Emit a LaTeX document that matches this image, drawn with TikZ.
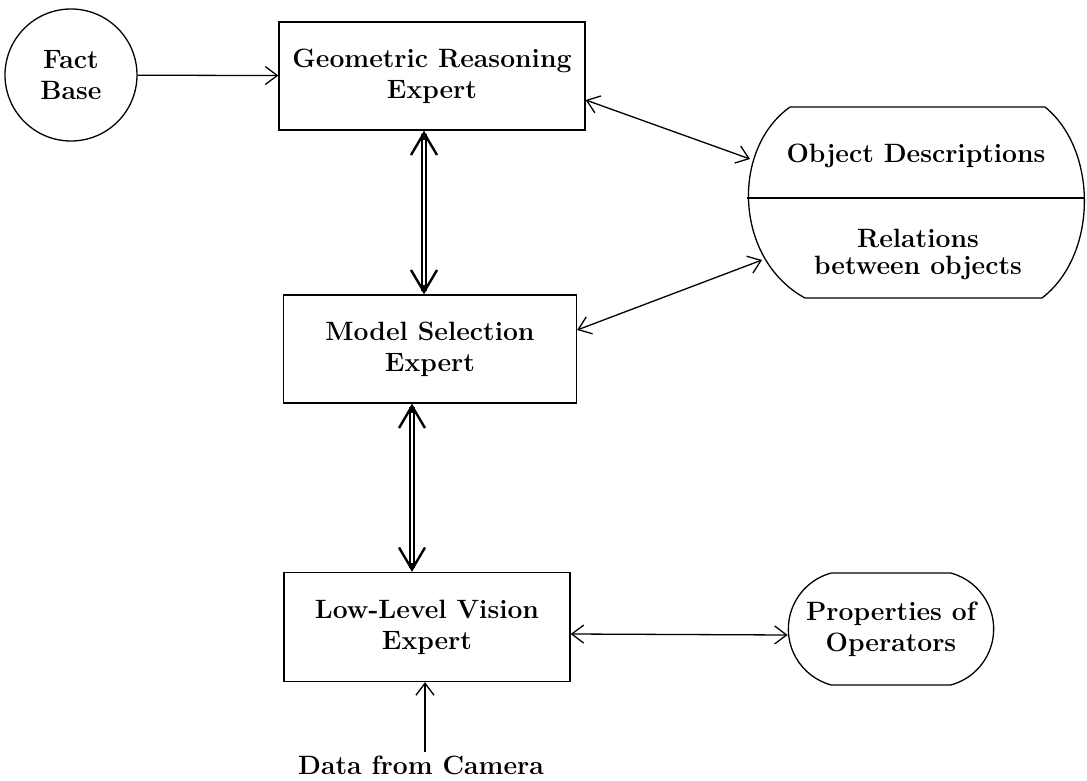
\documentclass[tikz,border=0pt]{standalone}
\usepackage{tikz}
\usetikzlibrary{arrows.meta,shapes.misc}

\begin{document}
\begin{tikzpicture}[x=1pt,y=-1pt,
    every node/.style={font=\fontsize{26.5}{31}\selectfont\bfseries, align=center},
    expert/.style={draw, line width=1.3pt, minimum height=108pt},
    store/.style={draw, line width=1.3pt},
    link/.style={line width=1.3pt, {Straight Barb[length=12pt,width=18pt]}-{Straight Barb[length=12pt,width=18pt]}},
    feed/.style={line width=1.3pt, -{Straight Barb[length=12pt,width=18pt]}},
    flow/.style={line width=6.4pt, {Straight Barb[length=22pt,width=26pt,line width=2.4pt]}-{Straight Barb[length=22pt,width=26pt,line width=2.4pt]},
        postaction={draw=white, line width=1.8pt, arrows=-, shorten <=9pt, shorten >=9pt}}]
            \useasboundingbox (0,0) rectangle (1087,781);

            % experts
            \node[store, circle, minimum size=132pt] (fact) at (71,75) {Fact\\Base};
            \node[expert, minimum width=306pt] (geo) at (432,76) {Geometric Reasoning\\Expert};
            \node[expert, minimum width=293pt] (model) at (430,349) {Model Selection\\Expert};
            \node[expert, minimum width=286pt, minimum height=109pt] (low) at (427,627) {Low-Level Vision\\Expert};
            \node[store, rounded rectangle, rounded rectangle arc length=150, minimum width=212pt, minimum height=112pt] (props) at (891,629) {Properties of\\Operators};
            \node (camera) at (421,765) {Data from Camera};

            % object store
            \draw[line width=1.3pt] (790,107) -- (1045,107) .. controls (1098,150) and (1098,255) .. (1042,298) -- (805,298) .. controls (735,260) and (730,150) .. (790,107);
            \draw[line width=1.3pt] (747,198) -- (1084,198);
            \node (objdesc) at (916,156) {Object Descriptions};
            \node[font=\fontsize{26.5}{27}\selectfont\bfseries] (relations) at (918,254) {Relations\\between objects};
            \coordinate (od-port) at (750,159);
            \coordinate (rel-port) at (762,260);

            % connectors
            \draw[feed] (fact) -- (geo);
            \draw[link] ([yshift=-24pt]geo.east) -- (od-port);
            \draw[link] ([yshift=19pt]model.east) -- (rel-port);
            \draw[flow] ([xshift=-8pt]geo.south) -- ([xshift=-8pt]geo.south |- model.north);
            \draw[flow] ([xshift=-18pt]model.south) -- ([xshift=-18pt]model.south |- low.north);
            \draw[link] ([yshift=-7pt]low.east) -- ([yshift=-6pt]props.west);
            \draw[feed] ([xshift=-2pt]low.south |- camera.north) -- ([xshift=-2pt]low.south);
        \end{tikzpicture}
\end{document}
